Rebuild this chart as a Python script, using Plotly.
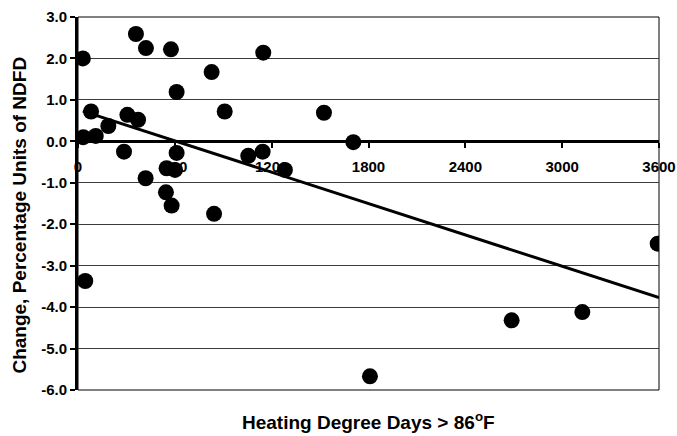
import plotly.graph_objects as go

# Data
hdd = [30, 45, 33, 110, 81, 188, 306, 372, 359, 421, 576, 611, 1148, 828, 909, 1524,
       1706, 285, 419, 611, 549, 601, 545, 580, 843, 1055, 1144, 1282, 2687, 3125, 3592, 1809]
change = [2.0, -3.37, 0.10, 0.13, 0.72, 0.37, 0.64, 0.52, 2.59, 2.25, 2.22, 1.19, 2.14, 1.67, 0.72, 0.69,
          -0.02, -0.25, -0.89, -0.28, -0.65, -0.69, -1.23, -1.55, -1.75, -0.35, -0.25, -0.69, -4.32, -4.12, -2.47, -5.67]

trend_x = [30, 3600]
trend_y = [0.73, -3.77]

x_ticks = [0, 600, 1200, 1800, 2400, 3000, 3600]
x_ticktext = ["0", "600", "1200", "1800", "2400", "3000", "3600"]
y_ticks = [3, 2, 1, 0, -1, -2, -3, -4, -5, -6]
y_ticktext = ["3.0", "2.0", "1.0", "0.0", "-1.0", "-2.0", "-3.0", "-4.0", "-5.0", "-6.0"]

FONT = "Liberation Sans, Arial, sans-serif"

fig = go.Figure()
fig.add_trace(go.Scatter(x=hdd, y=change, mode="markers",
                         marker=dict(color="black", size=16), showlegend=False))
fig.add_trace(go.Scatter(x=trend_x, y=trend_y, mode="lines",
                         line=dict(color="black", width=3), showlegend=False))

fig.update_layout(
    width=677, height=436,
    margin=dict(l=78, r=18, t=17, b=46),
    paper_bgcolor="white", plot_bgcolor="white",
    font=dict(family=FONT, color="black"),
    xaxis=dict(range=[0, 3600], tickvals=x_ticks, ticktext=x_ticktext, automargin=False,
               anchor="free", position=6/9, showline=True, linewidth=3, linecolor="black",
               ticks="outside", ticklen=5, tickwidth=2, tickcolor="black",
               ticklabelstandoff=6,
               showgrid=False, zeroline=False, layer="below traces",
               tickfont=dict(size=15, weight="bold", family=FONT)),
    yaxis=dict(range=[-6, 3], tickvals=y_ticks, ticktext=y_ticktext, automargin=False,
               showline=True, linewidth=3, linecolor="black",
               ticks="outside", ticklen=5, tickwidth=2, tickcolor="black",
               showgrid=True, gridcolor="#3a3a3a", gridwidth=1, zeroline=False,
               tickfont=dict(size=15, weight="bold", family=FONT)),
    shapes=[dict(type="rect", xref="paper", yref="paper", x0=0, x1=1, y0=0, y1=1,
                 line=dict(color="black", width=1), layer="below")],
    annotations=[
        dict(text="Heating Degree Days > 86<sup>o</sup>F", xref="paper", yref="paper",
             x=0.5, y=-0.082, xanchor="center", yanchor="middle", showarrow=False,
             font=dict(size=19, weight="bold", family=FONT)),
        dict(text="Change, Percentage Units of NDFD", xref="paper", yref="paper",
             x=-0.1, y=0.47, xanchor="center", yanchor="middle", showarrow=False,
             textangle=-90, font=dict(size=19, weight="bold", family=FONT)),
    ],
)

fig.write_html("out.html", config={"displayModeBar": False},
               post_script="document.body.style.margin='0';document.body.style.overflow='hidden';")
